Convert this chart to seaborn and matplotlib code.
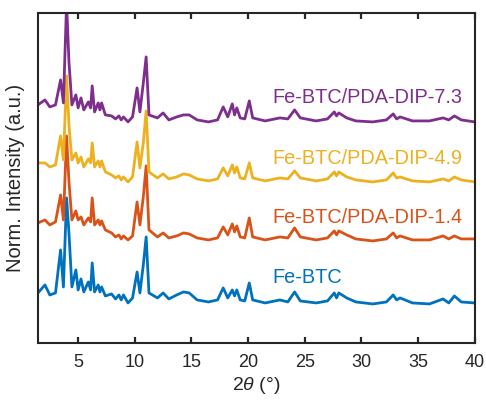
import numpy as np
import pandas as pd
import matplotlib
matplotlib.use("Agg")
import matplotlib.pyplot as plt
import seaborn as sns

# 2theta positions (degrees) of read points
two_theta = [1.45, 2.07, 2.5, 3.0, 3.45, 3.7, 3.98, 4.19, 4.45, 4.8, 5.0, 5.25, 5.5, 5.9, 6.1,
             6.24, 6.45, 6.77, 6.92, 7.07, 7.4, 7.95, 8.3, 8.6, 8.8, 9.0, 9.4, 9.8, 10.2, 10.45,
             10.75, 11.0, 11.25, 12.0, 12.5, 13.0, 13.7, 14.3, 14.8, 15.5, 16.5, 17.3, 17.8, 18.2,
             18.6, 18.8, 19.0, 19.3, 19.7, 20.1, 20.4, 21.5, 22.8, 23.5, 24.1, 24.6, 26.0, 27.0,
             27.6, 27.8, 28.0, 28.7, 29.5, 31.0, 32.2, 32.8, 33.1, 33.4, 34.5, 36.0, 37.2, 37.7,
             38.2, 38.8, 40.0]

fe_btc = [50, 58, 48, 50, 93, 56, 145, 110, 56, 73, 53, 64, 51, 61, 53,
          80, 51, 58, 51, 56, 47, 49, 44, 48, 43, 48, 40, 45, 71, 50,
          78, 106, 50, 45, 50, 44, 48, 51, 50, 43, 41, 43, 55, 45,
          53, 47, 53, 43, 42, 60, 43, 40, 43, 41, 51, 42, 40, 42,
          50, 45, 50, 45, 41, 39, 41, 48, 43, 45, 40, 39, 44, 40,
          47, 41, 40]

dip_14 = [120, 123, 118, 121, 148, 123, 207, 161, 123, 132, 123, 126, 118, 125, 121,
          145, 118, 123, 118, 122, 113, 110, 106, 108, 104, 107, 103, 107, 141, 118,
          146, 177, 113, 106, 110, 105, 107, 110, 109, 105, 103, 105, 116, 108,
          119, 111, 117, 106, 105, 125, 106, 103, 106, 105, 115, 106, 103, 105,
          112, 108, 112, 108, 104, 102, 104, 110, 105, 107, 103, 103, 107, 104,
          107, 104, 104]

dip_49 = [180, 180, 176, 178, 207, 183, 267, 218, 183, 190, 180, 186, 176, 184, 180,
          200, 176, 182, 176, 182, 171, 168, 165, 167, 163, 166, 161, 166, 201, 175,
          200, 232, 171, 165, 169, 164, 166, 169, 168, 164, 162, 164, 175, 167,
          178, 170, 176, 165, 164, 180, 165, 162, 165, 164, 172, 165, 162, 164,
          171, 167, 171, 166, 163, 161, 163, 170, 165, 166, 162, 161, 164, 162,
          166, 163, 161]

dip_73 = [238, 243, 236, 238, 263, 240, 340, 281, 238, 248, 235, 245, 233, 241, 235,
          257, 231, 240, 233, 240, 228, 227, 224, 227, 223, 226, 221, 226, 255, 231,
          260, 286, 228, 225, 230, 223, 226, 228, 228, 223, 221, 223, 236, 226,
          239, 228, 235, 225, 224, 242, 225, 222, 225, 224, 233, 225, 222, 224,
          231, 227, 230, 225, 222, 221, 223, 229, 224, 226, 222, 222, 225, 223,
          227, 223, 221]

series_names = ["Fe-BTC", "Fe-BTC/PDA-DIP-1.4", "Fe-BTC/PDA-DIP-4.9", "Fe-BTC/PDA-DIP-7.3"]
series_values = [fe_btc, dip_14, dip_49, dip_73]
label_y = [65, 125, 184, 245]
label_x = 22.1
colors = ["#0072BD", "#D95319", "#EDB120", "#7E2F8E"]

df = pd.concat([pd.DataFrame({"two_theta": two_theta, "intensity": v, "sample": n})
                for n, v in zip(series_names, series_values)], ignore_index=True)

sns.set_theme(style="ticks")
plt.rcParams["font.family"] = ["Liberation Sans", "DejaVu Sans"]
plt.rcParams["mathtext.fontset"] = "custom"
plt.rcParams["mathtext.it"] = "Liberation Sans:italic"
plt.rcParams["mathtext.rm"] = "Liberation Sans"

fig = plt.figure(figsize=(4.86, 4.03), dpi=100)
ax = fig.add_axes([0.078, 0.149, 0.899, 0.819])

sns.lineplot(data=df, x="two_theta", y="intensity", hue="sample", hue_order=series_names,
             palette=colors, linewidth=2.0, legend=False, ax=ax, sort=False)

for n, y, c in zip(series_names, label_y, colors):
    ax.text(label_x, y, n, color=c, fontsize=14.3, ha="left", va="center")

ax.set_xlim(1.45, 40)
ax.set_ylim(0, 330)
ax.set_yticks([])
ax.set_xticks([5, 10, 15, 20, 25, 30, 35, 40])
ax.xaxis.set_ticks_position("both")
ax.tick_params(axis="x", which="major", direction="in", length=4.5, width=1.6,
               labelsize=13, color="#262626", pad=8)
for s in ax.spines.values():
    s.set_linewidth(1.5)
    s.set_color("#262626")
ax.set_xlabel(r"2$\theta$ (°)", fontsize=14, labelpad=3)
ax.set_ylabel("Norm. Intensity (a.u.)", fontsize=14.5, labelpad=9)

fig.savefig("out.png", dpi=100)
